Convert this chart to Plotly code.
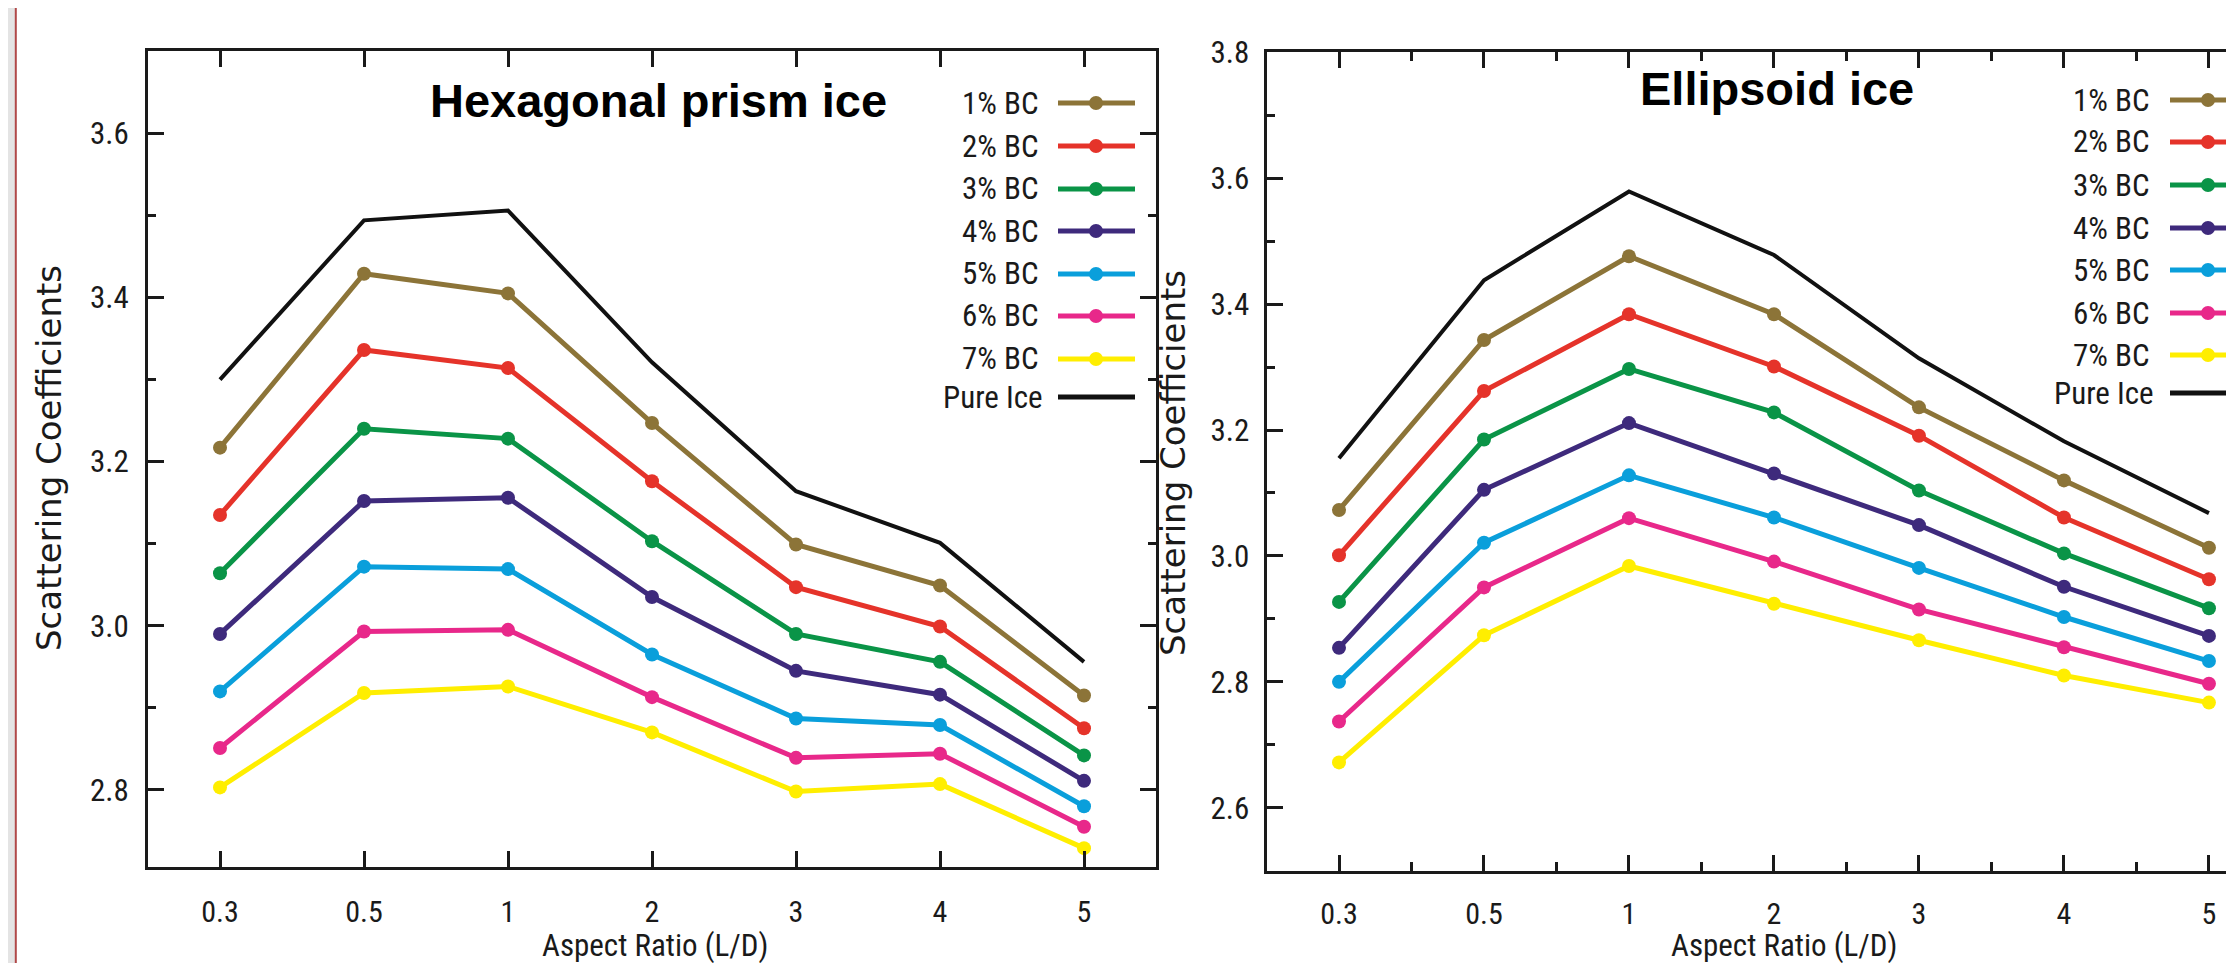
import plotly.graph_objects as go

W, H = 2234, 963

categories = ["0.3", "0.5", "1", "2", "3", "4", "5"]
series_names = ["1% BC", "2% BC", "3% BC", "4% BC", "5% BC", "6% BC", "7% BC", "Pure Ice"]
series_colors = ["#8C7438", "#E5332A", "#0A9447", "#3E2A7C", "#0A9FDB", "#E8288A", "#FFEE00", "#111111"]

hex_bc1 = [3.217, 3.429, 3.405, 3.247, 3.099, 3.049, 2.915]
hex_bc2 = [3.135, 3.336, 3.314, 3.176, 3.047, 2.999, 2.875]
hex_bc3 = [3.064, 3.240, 3.228, 3.103, 2.990, 2.956, 2.842]
hex_bc4 = [2.990, 3.152, 3.156, 3.035, 2.945, 2.916, 2.811]
hex_bc5 = [2.920, 3.072, 3.069, 2.965, 2.887, 2.879, 2.780]
hex_bc6 = [2.851, 2.993, 2.995, 2.913, 2.839, 2.844, 2.755]
hex_bc7 = [2.803, 2.918, 2.926, 2.870, 2.798, 2.807, 2.729]
hex_pure = [3.300, 3.494, 3.506, 3.321, 3.164, 3.101, 2.956]

ell_bc1 = [3.073, 3.343, 3.476, 3.384, 3.236, 3.120, 3.013]
ell_bc2 = [3.001, 3.262, 3.384, 3.301, 3.191, 3.061, 2.963]
ell_bc3 = [2.927, 3.185, 3.297, 3.228, 3.104, 3.004, 2.917]
ell_bc4 = [2.854, 3.105, 3.211, 3.131, 3.049, 2.951, 2.873]
ell_bc5 = [2.800, 3.021, 3.128, 3.061, 2.981, 2.903, 2.833]
ell_bc6 = [2.737, 2.950, 3.060, 2.991, 2.915, 2.855, 2.797]
ell_bc7 = [2.672, 2.874, 2.984, 2.924, 2.866, 2.810, 2.767]
ell_pure = [3.155, 3.438, 3.579, 3.478, 3.314, 3.182, 3.068]

hex_series = [hex_bc1, hex_bc2, hex_bc3, hex_bc4, hex_bc5, hex_bc6, hex_bc7, hex_pure]
ell_series = [ell_bc1, ell_bc2, ell_bc3, ell_bc4, ell_bc5, ell_bc6, ell_bc7, ell_pure]

NARROW = "Liberation Sans Narrow, Arial Narrow, Roboto Condensed, Roboto, sans-serif"
WIDE = "DejaVu Sans, Verdana, sans-serif"
BOLD = "Liberation Sans, Arial, sans-serif"
INK = "#1a1a1a"

xpos = list(range(len(categories)))


def px(x):
    return x / W


def py(y):
    return 1 - y / H


fig = go.Figure()

for vals, name, col in zip(hex_series, series_names, series_colors):
    pure = name == "Pure Ice"
    fig.add_trace(go.Scatter(
        x=xpos, y=vals, name=name, xaxis="x", yaxis="y",
        mode="lines" if pure else "lines+markers",
        line=dict(color=col, width=4 if pure else 5),
        marker=dict(color=col, size=14),
        showlegend=False, cliponaxis=False))

for vals, name, col in zip(ell_series, series_names, series_colors):
    pure = name == "Pure Ice"
    fig.add_trace(go.Scatter(
        x=xpos, y=vals, name=name, xaxis="x2", yaxis="y2",
        mode="lines" if pure else "lines+markers",
        line=dict(color=col, width=4 if pure else 5),
        marker=dict(color=col, size=14),
        showlegend=False, cliponaxis=False))

axis_common = dict(
    showline=True, linecolor=INK, linewidth=3, showgrid=False, zeroline=False,
    ticks="inside", ticklen=16, tickwidth=2.5, tickcolor=INK,
    tickfont=dict(family=NARROW, size=31, color=INK), automargin=False,
)
xtickfont = dict(family=NARROW, size=30, color=INK)

fig.update_layout(
    width=W, height=H,
    margin=dict(l=0, r=0, t=0, b=0),
    paper_bgcolor="white", plot_bgcolor="white",
    showlegend=False,
    xaxis=dict(axis_common, domain=[px(140), px(1148)], range=[-0.5, 6.5],
               tickmode="array", tickvals=xpos, ticktext=categories, tickfont=xtickfont,
               mirror="ticks", anchor="y", ticklabelstandoff=16),
    yaxis=dict(axis_common, domain=[py(859), py(43.3)], range=[2.706, 3.70],
               tick0=2.8, dtick=0.2, tickformat=".1f", mirror="ticks", anchor="x",
               ticklabelstandoff=10,
               minor=dict(dtick=0.1, tick0=2.8, ticks="inside", ticklen=8,
                          tickwidth=2.5, tickcolor=INK, showgrid=False)),
    xaxis2=dict(axis_common, domain=[px(1258.5), 1.0], range=[-0.5, 6.228],
                tickmode="array", tickvals=xpos, ticktext=categories, tickfont=xtickfont,
                mirror="ticks", anchor="y2", ticklabelstandoff=14,
                minor=dict(tickvals=[i + 0.5 for i in xpos], ticks="inside",
                           ticklen=9, tickwidth=2.5, tickcolor=INK, showgrid=False)),
    yaxis2=dict(axis_common, domain=[py(862.7), py(44.3)], range=[2.5, 3.8],
                tick0=2.6, dtick=0.2, tickformat=".1f", mirror=False, anchor="x2",
                ticklabelstandoff=8,
                minor=dict(dtick=0.1, tick0=2.6, ticks="inside", ticklen=8,
                           tickwidth=2.5, tickcolor=INK, showgrid=False)),
)

annotations = []
shapes = []

# panel titles
annotations.append(dict(text="<b>Hexagonal prism ice</b>", x=px(650), y=py(92),
                        xref="paper", yref="paper", showarrow=False,
                        xanchor="center", yanchor="middle",
                        font=dict(family=BOLD, size=47, color="black")))
annotations.append(dict(text="<b>Ellipsoid ice</b>", x=px(1769), y=py(80),
                        xref="paper", yref="paper", showarrow=False,
                        xanchor="center", yanchor="middle",
                        font=dict(family=BOLD, size=47, color="black")))

# axis titles
for cx in (647, 1776):
    annotations.append(dict(text="Aspect Ratio (L/D)", x=px(cx), y=py(937),
                            xref="paper", yref="paper", showarrow=False,
                            xanchor="center", yanchor="middle", borderpad=0,
                            font=dict(family=NARROW, size=31, color=INK)))
for cx, cy in ((41, 450), (1165, 455)):
    annotations.append(dict(text="Scattering Coefficients", x=px(cx), y=py(cy),
                            xref="paper", yref="paper", showarrow=False, textangle=-90,
                            xanchor="center", yanchor="middle",
                            font=dict(family=WIDE, size=34, color=INK)))

# custom legends (label left, sample right)
legend_specs = [
    dict(text_right=1033, line=(1050, 1127), mark=1088,
         rows=[95, 138, 181, 223, 266, 308, 351, 389]),
    dict(text_right=2144, line=(2162, 2239), mark=2200,
         rows=[92, 134, 177, 220, 262, 305, 347, 385]),
]
for spec in legend_specs:
    for name, col, ry in zip(series_names, series_colors, spec["rows"]):
        pure = name == "Pure Ice"
        tr = spec["text_right"] + (4 if pure else 0)
        annotations.append(dict(text=name, x=px(tr), y=py(ry), xref="paper", yref="paper",
                                showarrow=False, xanchor="right", yanchor="middle",
                                font=dict(family=NARROW, size=31, color=INK)))
        shapes.append(dict(type="line", xref="paper", yref="paper",
                           x0=px(spec["line"][0]), x1=px(spec["line"][1]),
                           y0=py(ry), y1=py(ry), line=dict(color=col, width=5)))
        if not pure:
            r = 7
            shapes.append(dict(type="circle", xref="paper", yref="paper",
                               x0=px(spec["mark"] - r), x1=px(spec["mark"] + r),
                               y0=py(ry + r), y1=py(ry - r),
                               fillcolor=col, line=dict(color=col, width=0)))

# left decorative strip of the source page
shapes.append(dict(type="rect", xref="paper", yref="paper", x0=0, x1=px(7), y0=0, y1=1,
                   fillcolor="#E4E4E4", line=dict(width=0), layer="below"))
shapes.append(dict(type="line", xref="paper", yref="paper", x0=px(7.8), x1=px(7.8), y0=0, y1=1,
                   line=dict(color="#B04848", width=2)))

fig.update_layout(annotations=annotations, shapes=shapes)

fig.write_html("out.html")
